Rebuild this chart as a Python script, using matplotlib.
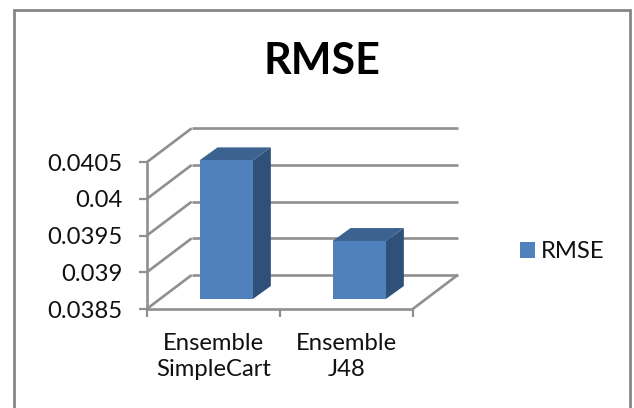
"""Pseudo-3D column chart of RMSE for the two ensemble classifiers."""

import matplotlib
matplotlib.use("Agg")  # headless backend, no display needed
import matplotlib.pyplot as plt
from matplotlib.lines import Line2D
from matplotlib.patches import Patch, Polygon, Rectangle

plt.rcParams["font.family"] = ["Lato", "DejaVu Sans"]

CATEGORIES = ["Ensemble\nSimpleCart", "Ensemble\nJ48"]
RMSE = [0.04039, 0.03929]
Y_TICKS = [0.0385, 0.039, 0.0395, 0.04, 0.0405]
Y_LABELS = ["0.0385", "0.039", "0.0395", "0.04", "0.0405"]
SERIES_NAME = "RMSE"

W, H = 634, 408
GRID = "#8f8f8f"
FRONT = "#4f81bd"
TOP = "#3c6291"
SIDE = "#2f5078"
TEXT_SIZE = 17.2

# plot box of the front plane, in pixels
LEFT, RIGHT, BOTTOM, TOP_PX = 146.7, 412.7, 309.0, 162.3

fig = plt.figure(figsize=(W / 100, H / 100), dpi=100)
fig.patch.set_facecolor("white")
fig.add_artist(Rectangle((14 / W, -0.02), 616 / W, 1.02 - 10 / H, transform=fig.transFigure,
                         fill=False, edgecolor="#868686", linewidth=2.0))

ax = fig.add_axes([LEFT / W, 1 - BOTTOM / H, (RIGHT - LEFT) / W, (BOTTOM - TOP_PX) / H])
ax.set_xlim(0, len(CATEGORIES))
ax.set_ylim(Y_TICKS[0], Y_TICKS[-1])
ax.patch.set_visible(False)
for spine in ax.spines.values():
    spine.set_visible(False)

# data units per pixel, used for the oblique depth offsets
px_x = len(CATEGORIES) / (RIGHT - LEFT)
px_y = (Y_TICKS[-1] - Y_TICKS[0]) / (BOTTOM - TOP_PX)
wall_dx, wall_dy = 45 * px_x, 34 * px_y
bar_dx, bar_dy = 18 * px_x, 13 * px_y
lift_dx, lift_dy = 13 * px_x, 10 * px_y
bar_width = 53.3 * px_x


def line(xs, ys, color=GRID, lw=1.9):
    ax.add_line(Line2D(xs, ys, color=color, linewidth=lw, clip_on=False,
                       solid_capstyle="butt", zorder=1))


# back wall, side wall and floor
x_max = len(CATEGORIES)
for t in Y_TICKS:
    line([0, wall_dx], [t, t + wall_dy])
    line([wall_dx, x_max + wall_dx], [t + wall_dy, t + wall_dy])
line([0, x_max], [Y_TICKS[0], Y_TICKS[0]])
line([x_max, x_max + wall_dx], [Y_TICKS[0], Y_TICKS[0] + wall_dy])
line([0, 0], [Y_TICKS[0], Y_TICKS[-1]])

# columns stand on the floor, set back from the front plane
for i, v in enumerate(RMSE):
    x0 = i + 0.5 + lift_dx - bar_width / 2
    x1 = x0 + bar_width
    y0 = Y_TICKS[0] + lift_dy
    y1 = v + lift_dy
    ax.add_patch(Polygon([(x1, y0), (x1 + bar_dx, y0 + bar_dy), (x1 + bar_dx, y1 + bar_dy), (x1, y1)],
                         facecolor=SIDE, edgecolor="none", clip_on=False, zorder=3))
    ax.add_patch(Polygon([(x0, y1), (x1, y1), (x1 + bar_dx, y1 + bar_dy), (x0 + bar_dx, y1 + bar_dy)],
                         facecolor=TOP, edgecolor="none", clip_on=False, zorder=3))
    ax.add_patch(Rectangle((x0, y0), bar_width, y1 - y0, facecolor=FRONT, edgecolor="none",
                           clip_on=False, zorder=4))

ax.set_yticks(Y_TICKS, Y_LABELS, fontsize=TEXT_SIZE, color="#111111")
ax.set_xticks(range(x_max + 1))
ax.set_xticklabels([])
ax.tick_params(axis="both", length=5.5, width=1.6, color=GRID)
ax.tick_params(axis="y", pad=12)

# category names sit between the ticks
for i, name in enumerate(CATEGORIES):
    ax.annotate(name, (i + 0.5, Y_TICKS[0]), xytext=(0, -24), textcoords="offset pixels",
                ha="center", va="top", fontsize=TEXT_SIZE, color="#111111", linespacing=1.3,
                annotation_clip=False)

fig.text(322 / W, 1 - 61 / H, SERIES_NAME, fontsize=31, fontweight="bold", ha="center",
         va="center", color="black")

fig.legend(handles=[Patch(facecolor=FRONT, label=SERIES_NAME)], loc="center left",
           bbox_to_anchor=(520 / W, 1 - 252 / H), frameon=False, fontsize=TEXT_SIZE,
           handlelength=0.62, handleheight=0.62, handletextpad=0.25, borderpad=0,
           borderaxespad=0, labelcolor="#111111")

fig.savefig("out.png", dpi=100)
